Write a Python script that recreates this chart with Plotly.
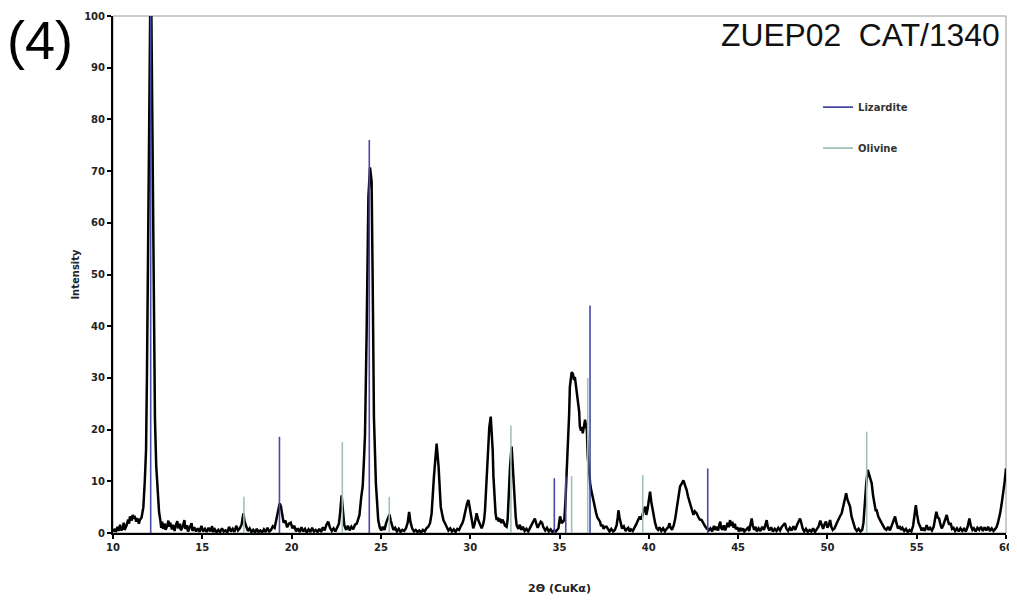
import plotly.graph_objects as go

# XRD scan: (2-theta, intensity)
xrd_scan = [
    (10.0, 0.3), (10.1, 0.8), (10.15, 0.2), (10.25, 1.2), (10.3, 0.4), (10.4, 1.6), (10.45, 0.5),
    (10.55, 0.9), (10.6, 2.0), (10.65, 0.6), (10.75, 1.4), (10.85, 2.6), (10.9, 1.8), (10.95, 3.2),
    (11.05, 2.4), (11.1, 3.5), (11.15, 2.8), (11.2, 3.3), (11.3, 2.2), (11.35, 2.9), (11.45, 1.8),
    (11.5, 2.5), (11.6, 3.0), (11.7, 5.0), (11.78, 10), (11.85, 16), (11.9, 30), (11.97, 55),
    (12.03, 85), (12.08, 100), (12.15, 100), (12.2, 80), (12.26, 55), (12.3, 35), (12.35, 22),
    (12.42, 13), (12.5, 8), (12.58, 4), (12.65, 2.5),
    (12.7, 1.0), (12.75, 2.2), (12.8, 0.8), (12.9, 1.8), (12.95, 0.6), (13.05, 1.5), (13.1, 2.4),
    (13.15, 1.2), (13.2, 2.0), (13.3, 0.7), (13.35, 1.6), (13.45, 0.4), (13.5, 1.3), (13.6, 2.3),
    (13.65, 0.9), (13.75, 1.8), (13.8, 0.5), (13.9, 1.2), (14.0, 2.5), (14.05, 0.8), (14.15, 1.5),
    (14.2, 0.3), (14.3, 1.0), (14.4, 1.9), (14.45, 0.4), (14.55, 1.1), (14.65, 0.3), (14.75, 0.9),
    (14.85, 0.2), (14.95, 1.4), (15.05, 0.3), (15.15, 0.8), (15.25, 0.2), (15.35, 1.0), (15.45, 0.3),
    (15.55, 1.3), (15.6, 0.2), (15.7, 0.7), (15.8, 0.1), (15.9, 0.6), (16.0, 0.2), (16.1, 0.9),
    (16.2, 0.3), (16.3, 0.5), (16.4, 0.1), (16.5, 1.2), (16.6, 0.3), (16.7, 0.8), (16.8, 0.2),
    (16.9, 1.4), (17.0, 0.5), (17.1, 0.9), (17.2, 1.6), (17.3, 3.8), (17.37, 2.2), (17.45, 1.4),
    (17.55, 0.4), (17.65, 0.9), (17.75, 0.2), (17.85, 0.6), (17.95, 0.1), (18.05, 0.8), (18.15, 0.2),
    (18.25, 0.5), (18.35, 0.1), (18.45, 0.7), (18.55, 0.2), (18.65, 1.0), (18.75, 0.3), (18.85, 0.6),
    (18.95, 1.3), (19.05, 1.0), (19.15, 2.5), (19.25, 4.2), (19.33, 5.7), (19.4, 5.2), (19.48, 3.4),
    (19.55, 2.0), (19.65, 2.4), (19.75, 1.1), (19.85, 1.8), (19.95, 2.0), (20.05, 0.9), (20.15, 1.4),
    (20.25, 0.3), (20.35, 0.9), (20.45, 0.2), (20.55, 1.1), (20.65, 0.3), (20.75, 0.8), (20.85, 0.1),
    (20.95, 0.7), (21.05, 0.2), (21.15, 1.0), (21.25, 0.3), (21.35, 0.6), (21.45, 0.2), (21.55, 0.8),
    (21.65, 0.2), (21.75, 1.1), (21.85, 0.5), (21.95, 1.6), (22.05, 2.2), (22.15, 1.0), (22.25, 0.4),
    (22.35, 0.9), (22.45, 0.3), (22.55, 1.0), (22.65, 1.8), (22.72, 4.0), (22.8, 7.3), (22.87, 4.5),
    (22.95, 1.5), (23.05, 0.6), (23.15, 1.4), (23.25, 0.5), (23.35, 1.2), (23.45, 0.7), (23.55, 1.6),
    (23.65, 1.8), (23.72, 2.6), (23.8, 3.5), (23.9, 7.0), (23.98, 9.0), (24.05, 14), (24.11, 19),
    (24.2, 38.6), (24.3, 65), (24.39, 70.7), (24.48, 68), (24.54, 48.8), (24.61, 22.4), (24.72, 9.6),
    (24.8, 4.5), (24.85, 2.5), (24.94, 1.0), (25.02, 0.5), (25.1, 1.2), (25.2, 0.6), (25.3, 2.0),
    (25.4, 3.0), (25.48, 3.6), (25.55, 2.4), (25.62, 1.4), (25.7, 0.6), (25.8, 1.0), (25.9, 0.3),
    (26.0, 0.8), (26.1, 0.2), (26.2, 0.6), (26.3, 0.4), (26.4, 0.9), (26.5, 2.0), (26.58, 4.1),
    (26.65, 2.2), (26.75, 0.9), (26.85, 0.3), (26.95, 0.6), (27.05, 0.2), (27.15, 0.5), (27.25, 0.1),
    (27.35, 0.6), (27.45, 0.3), (27.55, 0.9), (27.65, 1.2), (27.75, 1.9), (27.84, 3.8), (27.97, 10.9),
    (28.05, 15), (28.12, 17.3), (28.23, 12.8), (28.35, 5.1), (28.42, 3.8), (28.5, 2.5), (28.6, 1.8),
    (28.68, 1.2), (28.78, 0.5), (28.88, 0.9), (28.98, 0.3), (29.08, 0.7), (29.18, 0.2), (29.28, 0.8),
    (29.38, 0.6), (29.48, 1.4), (29.55, 1.8), (29.62, 2.5), (29.7, 4.0), (29.76, 5.1), (29.83, 5.8),
    (29.9, 6.4), (29.96, 5.0), (30.03, 3.5), (30.1, 1.8), (30.17, 0.9), (30.25, 1.8), (30.3, 3.0),
    (30.36, 3.8), (30.44, 2.6), (30.51, 1.9), (30.58, 1.2), (30.64, 0.9), (30.72, 1.6), (30.78, 2.6),
    (30.83, 4.4), (30.9, 8.5), (30.96, 12.8), (31.02, 17), (31.07, 20.5), (31.15, 22.5), (31.21, 19.5),
    (31.26, 16), (31.3, 11), (31.35, 6.4), (31.42, 3.8), (31.48, 2.5), (31.55, 3.0), (31.6, 2.2),
    (31.67, 2.8), (31.74, 1.9), (31.8, 2.6), (31.86, 2.2), (31.95, 1.4), (32.04, 1.2), (32.1, 2.8),
    (32.13, 5.1), (32.18, 9), (32.23, 12.8), (32.32, 16.7), (32.4, 10.9), (32.45, 7.5), (32.5, 5.1),
    (32.55, 3.0), (32.6, 1.5), (32.7, 0.8), (32.78, 1.6), (32.86, 0.6), (32.95, 1.2), (33.05, 0.4),
    (33.15, 0.8), (33.25, 0.3), (33.35, 1.0), (33.45, 1.6), (33.55, 2.4), (33.62, 2.8), (33.7, 1.8),
    (33.78, 1.0), (33.86, 1.6), (33.95, 2.2), (34.02, 2.0), (34.1, 1.1), (34.2, 0.5), (34.3, 1.0),
    (34.4, 0.3), (34.5, 0.7), (34.6, 0.2), (34.7, 0.5), (34.8, 0.3), (34.87, 0.6), (34.94, 0.9),
    (35.0, 2.5), (35.03, 3.2), (35.08, 2.6), (35.12, 1.9), (35.2, 2.2), (35.27, 2.5), (35.33, 6),
    (35.4, 10.8), (35.45, 15), (35.49, 18.5), (35.54, 23), (35.58, 28.2), (35.63, 30), (35.68, 31.1),
    (35.75, 30.8), (35.81, 29.6), (35.86, 30.2), (35.95, 28), (36.05, 25.7), (36.1, 23.5),
    (36.14, 20.6), (36.2, 19.8), (36.25, 20.5), (36.3, 19.3), (36.36, 20.4), (36.43, 21.9),
    (36.48, 20.8), (36.53, 20), (36.58, 14.8), (36.65, 11.5), (36.72, 9.5), (36.77, 8.4), (36.85, 7.0),
    (36.92, 5.6), (37.0, 4.6), (37.05, 3.9), (37.12, 3.0), (37.2, 2.4), (37.27, 2.2), (37.33, 1.3),
    (37.4, 1.6), (37.47, 0.8), (37.55, 1.2), (37.64, 1.2), (37.72, 0.6), (37.8, 0.3), (37.9, 0.8),
    (38.0, 0.3), (38.1, 0.6), (38.2, 1.5), (38.26, 3.0), (38.3, 4.4), (38.36, 3.0), (38.42, 1.8),
    (38.5, 0.9), (38.6, 1.3), (38.7, 0.4), (38.78, 0.8), (38.85, 1.0), (38.92, 0.3), (39.0, 0.7),
    (39.1, 0.4), (39.2, 1.0), (39.3, 1.7), (39.4, 2.5), (39.5, 3.2), (39.58, 2.6), (39.65, 3.6),
    (39.72, 4.4), (39.8, 5.1), (39.86, 3.5), (39.93, 4.6), (40.0, 6.2), (40.07, 8.0), (40.14, 6.0),
    (40.2, 4.8), (40.26, 3.8), (40.35, 2.0), (40.44, 0.9), (40.52, 0.6), (40.6, 1.1), (40.7, 0.4),
    (40.8, 0.9), (40.9, 0.3), (41.0, 0.8), (41.1, 1.2), (41.15, 1.9), (41.22, 1.0), (41.3, 0.6),
    (41.4, 1.5), (41.48, 2.8), (41.56, 4.4), (41.65, 7.0), (41.75, 9.0), (41.85, 9.6), (41.94, 10.2),
    (42.03, 9.2), (42.12, 8.3), (42.2, 7.0), (42.3, 5.7), (42.4, 4.6), (42.5, 3.5), (42.58, 4.2),
    (42.68, 3.8), (42.78, 3.0), (42.86, 2.6), (42.96, 2.5), (43.05, 1.8), (43.15, 1.3), (43.24, 0.9),
    (43.35, 0.5), (43.45, 0.9), (43.55, 0.3), (43.65, 1.4), (43.72, 0.6), (43.8, 1.2), (43.88, 0.5),
    (43.95, 1.6), (44.0, 2.2), (44.05, 1.0), (44.12, 0.6), (44.2, 1.5), (44.28, 0.5), (44.35, 1.3),
    (44.42, 2.0), (44.48, 1.1), (44.55, 2.5), (44.6, 1.4), (44.68, 2.2), (44.75, 1.0), (44.82, 1.8),
    (44.88, 0.7), (44.95, 1.1), (45.05, 0.3), (45.12, 1.0), (45.2, 0.4), (45.28, 0.9), (45.35, 0.3),
    (45.45, 0.7), (45.55, 1.0), (45.62, 0.4), (45.7, 1.6), (45.76, 2.8), (45.82, 1.5), (45.9, 0.6),
    (45.98, 1.2), (46.05, 0.3), (46.15, 0.9), (46.25, 0.4), (46.35, 1.2), (46.45, 0.6), (46.52, 1.5),
    (46.6, 2.5), (46.66, 1.2), (46.75, 0.5), (46.85, 1.1), (46.95, 0.3), (47.05, 0.8), (47.15, 0.4),
    (47.25, 1.0), (47.35, 0.5), (47.45, 1.2), (47.55, 1.6), (47.62, 1.9), (47.7, 0.9), (47.8, 0.4),
    (47.9, 1.0), (48.0, 0.5), (48.1, 1.3), (48.2, 0.6), (48.3, 1.6), (48.4, 2.2), (48.47, 2.8),
    (48.55, 1.8), (48.62, 0.8), (48.7, 0.3), (48.8, 0.8), (48.9, 0.2), (49.0, 0.6), (49.1, 0.3),
    (49.2, 0.9), (49.3, 0.2), (49.4, 0.7), (49.5, 1.2), (49.6, 2.4), (49.68, 1.4), (49.76, 0.8),
    (49.85, 1.8), (49.92, 2.2), (50.0, 1.0), (50.08, 1.6), (50.15, 2.5), (50.22, 1.2), (50.3, 0.6),
    (50.4, 0.9), (50.52, 1.9), (50.6, 2.6), (50.7, 3.2), (50.8, 3.8), (50.9, 5.5), (50.98, 6.8),
    (51.05, 7.7), (51.12, 6.5), (51.2, 5.5), (51.27, 5.1), (51.35, 3.2), (51.46, 1.9), (51.55, 0.9),
    (51.65, 0.4), (51.75, 0.8), (51.85, 0.3), (51.95, 0.6), (52.02, 2.0), (52.1, 6.4), (52.18, 9.8),
    (52.26, 12.2), (52.33, 11.4), (52.4, 10.4), (52.48, 9.6), (52.56, 7.2), (52.64, 5.6), (52.7, 4.4),
    (52.76, 4.4), (52.85, 3.2), (52.95, 2.5), (53.04, 1.9), (53.12, 1.4), (53.2, 0.9), (53.3, 0.6),
    (53.4, 1.2), (53.5, 0.5), (53.6, 1.4), (53.7, 2.4), (53.79, 3.2), (53.86, 2.0), (53.95, 0.9),
    (54.05, 1.3), (54.12, 0.6), (54.2, 1.0), (54.3, 0.4), (54.4, 0.8), (54.5, 0.2), (54.6, 0.6),
    (54.7, 0.3), (54.8, 1.4), (54.88, 3.2), (54.95, 5.4), (55.02, 3.6), (55.1, 2.0), (55.2, 1.2),
    (55.28, 0.5), (55.36, 1.0), (55.45, 0.4), (55.56, 1.5), (55.65, 0.6), (55.75, 1.0), (55.85, 0.5),
    (55.95, 1.2), (56.02, 2.5), (56.1, 4.1), (56.18, 3.0), (56.25, 2.8), (56.32, 1.8), (56.4, 0.9),
    (56.5, 1.6), (56.6, 2.8), (56.68, 3.5), (56.75, 2.4), (56.82, 1.6), (56.9, 1.9), (56.98, 0.8),
    (57.06, 1.0), (57.15, 0.4), (57.25, 0.9), (57.35, 0.3), (57.45, 0.9), (57.55, 0.4), (57.65, 0.8),
    (57.75, 0.3), (57.85, 1.2), (57.95, 2.8), (58.03, 1.4), (58.12, 0.6), (58.2, 0.9), (58.3, 0.3),
    (58.4, 1.0), (58.5, 0.6), (58.6, 1.2), (58.7, 0.4), (58.8, 1.1), (58.9, 0.5), (59.0, 1.2),
    (59.1, 0.4), (59.2, 0.9), (59.3, 0.4), (59.4, 0.8), (59.48, 1.2), (59.55, 2.0), (59.62, 3.0),
    (59.67, 3.8), (59.75, 5.5), (59.85, 7.7), (59.92, 9.8), (60.0, 12.5),
]

# reference stick patterns
lizardite_pos = [12.11, 19.32, 24.35, 34.71, 35.35, 36.71, 43.3]
lizardite_int = [100, 18.6, 76, 10.6, 11, 44, 12.5]
olivine_pos = [17.33, 22.84, 25.47, 32.28, 35.68, 36.58, 39.66, 52.2]
olivine_int = [7.0, 17.6, 7.0, 20.8, 11, 30, 11.2, 19.6]


def sticks(pos, heights):
    xs, ys = [], []
    for p, h in zip(pos, heights):
        xs += [p, p, None]
        ys += [0, h, None]
    return xs, ys


two_theta = [p[0] for p in xrd_scan]
intensity = [p[1] for p in xrd_scan]

fig = go.Figure()

fig.add_trace(go.Scatter(x=two_theta, y=intensity, mode='lines', showlegend=False,
                         line=dict(color='black', width=2.5)))

lx, ly = sticks(lizardite_pos, lizardite_int)
fig.add_trace(go.Scatter(x=lx, y=ly, mode='lines', name='Lizardite', legendgroup='liz',
                         line=dict(color='#4848a8', width=1.6)))
ox, oy = sticks(olivine_pos, olivine_int)
fig.add_trace(go.Scatter(x=ox, y=oy, mode='lines', name='Olivine', legendgroup='oli',
                         line=dict(color='#9fc2b8', width=1.6)))

tick_font = dict(family='DejaVu Sans', size=10, color='#222', weight='bold')

fig.update_xaxes(range=[10, 60], dtick=5, showgrid=False, zeroline=False,
                 showline=True, linecolor='black', linewidth=2,
                 ticks='outside', ticklen=4, tickcolor='black', tickwidth=1.5,
                 tickfont=tick_font, ticklabeloverflow='allow',
                 title=dict(text='2Θ (CuKα)', standoff=32,
                            font=dict(family='DejaVu Sans', size=11, color='#222', weight='bold')))
fig.update_yaxes(range=[0, 100], dtick=10, showgrid=False, zeroline=False,
                 showline=True, linecolor='black', linewidth=2,
                 ticks='outside', ticklen=4, tickcolor='black', tickwidth=1.5,
                 tickfont=tick_font, ticklabeloverflow='allow',
                 title=dict(text='Intensity', standoff=3,
                            font=dict(family='DejaVu Sans', size=10, color='#222', weight='bold')))

fig.add_shape(type='rect', xref='paper', yref='paper', x0=0, y0=0, x1=1, y1=1,
              line=dict(color='#999999', width=1), layer='below')

fig.add_annotation(text='(4)', xref='paper', yref='paper', x=-0.0817, y=0.954,
                   xanchor='center', yanchor='middle', showarrow=False,
                   font=dict(family='Liberation Sans', size=54, color='black'))
fig.add_annotation(text='ZUEP02\u00a0 CAT/1340', xref='paper', yref='paper', x=0.9955, y=0.9637,
                   xanchor='right', yanchor='middle', showarrow=False,
                   font=dict(family='Liberation Sans', size=31.8, color='#111'))

fig.update_layout(
    width=1017, height=603,
    margin=dict(l=105, r=19, t=2, b=78),
    plot_bgcolor='white', paper_bgcolor='white',
    legend=dict(x=0.7895, y=0.8518, xanchor='left', yanchor='top',
                bgcolor='rgba(0,0,0,0)', itemwidth=30, tracegroupgap=22,
                font=dict(family='DejaVu Sans', size=10, color='#333', weight='bold')),
)

fig.write_html("out.html")
